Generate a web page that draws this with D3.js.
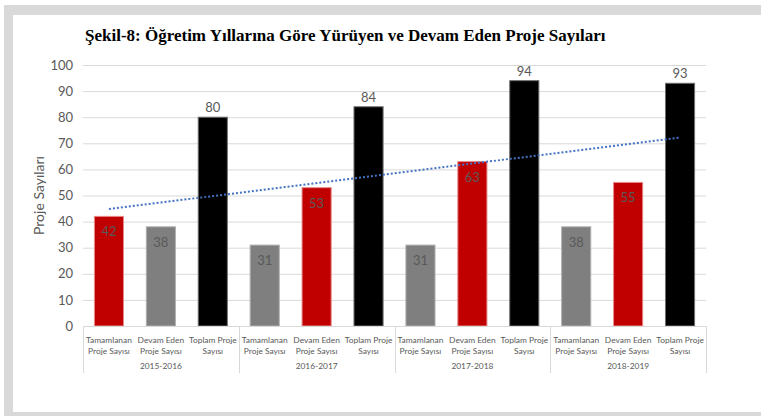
<!DOCTYPE html>
<html>
<head>
<meta charset="utf-8">
<script src="https://cdn.jsdelivr.net/npm/d3@7"></script>
<style>
	body { margin: 0; background: #fff; }
	svg { display: block; }
</style>
</head>
<body>
<div id="chart"></div>
<script>
// data
const years = ['2015-2016', '2016-2017', '2017-2018', '2018-2019'];
const seriesNames = ['Tamamlanan Proje Sayısı', 'Devam Eden Proje Sayısı', 'Toplam Proje Sayısı'];
const completed = [42, 31, 31, 38];
const ongoing = [38, 53, 63, 55];
const total = [80, 84, 94, 93];
const yTicks = [0, 10, 20, 30, 40, 50, 60, 70, 80, 90, 100];

// label lines under each bar
const seriesLines = [['Tamamlanan', 'Proje Sayısı'], ['Devam Eden', 'Proje Sayısı'], ['Toplam Proje', 'Sayısı']];

const RED = '#c00000', GREY = '#7f7f7f', BLACK = '#000000';
// the first year is coloured differently from the rest
const colours = [
	[RED, GREY, BLACK],
	[GREY, RED, BLACK],
	[GREY, RED, BLACK],
	[GREY, RED, BLACK]
];
const strokes = {[RED]: '#e88a8a', [GREY]: '#b0b0b0', [BLACK]: '#6f6f6f'};

const width = 761, height = 416;
const plot = {left: 83, right: 706, top: 65, bottom: 326};
const font = 'Lato, "Open Sans", sans-serif';
const textGrey = '#595959';

const svg = d3.select('#chart').append('svg')
	.attr('width', width)
	.attr('height', height);

// grey frame round the card
svg.append('rect').attr('x', 4).attr('y', 5).attr('width', width - 4).attr('height', height - 5).attr('fill', '#d9d9d9');
svg.append('rect').attr('x', 13).attr('y', 15).attr('width', width - 13).attr('height', 397).attr('fill', '#fff');

svg.append('text')
	.attr('x', 85)
	.attr('y', 41)
	.attr('font-family', '"Liberation Serif", "Times New Roman", serif')
	.attr('font-weight', 'bold')
	.attr('font-size', 17)
	.attr('fill', '#000')
	.text('Şekil-8: Öğretim Yıllarına Göre Yürüyen ve Devam Eden Proje Sayıları');

const y = d3.scaleLinear().domain([0, 100]).range([plot.bottom, plot.top]);
const x0 = d3.scaleBand().domain(years).range([plot.left, plot.right]).padding(0);
const x1 = d3.scaleBand().domain(d3.range(seriesNames.length)).range([0, x0.bandwidth()])
	.paddingInner(0.42).paddingOuter(0.21);

// gridlines + y labels
const yAxis = d3.axisLeft(y).tickValues(yTicks).tickSize(-(plot.right - plot.left)).tickPadding(10);
const gy = svg.append('g')
	.attr('transform', `translate(${plot.left},0)`)
	.call(yAxis);
gy.select('.domain').remove();
gy.selectAll('.tick line').attr('stroke', '#d9d9d9').attr('stroke-width', 1);
gy.selectAll('.tick text')
	.attr('font-family', font)
	.attr('font-size', 13)
	.attr('fill', textGrey);

svg.append('text')
	.attr('transform', `translate(44,${(plot.top + plot.bottom) / 2}) rotate(-90)`)
	.attr('text-anchor', 'middle')
	.attr('font-family', font)
	.attr('font-size', 14)
	.attr('fill', textGrey)
	.text('Proje Sayıları');

const rows = years.map((yr, i) => ({year: yr, values: [completed[i], ongoing[i], total[i]]}));

const groups = svg.append('g').selectAll('g')
	.data(rows)
	.join('g')
	.attr('transform', d => `translate(${x0(d.year)},0)`);

groups.selectAll('rect')
	.data((d, gi) => d.values.map((v, si) => ({v, si, gi})))
	.join('rect')
	.attr('x', d => x1(d.si) + 0.5)
	.attr('y', d => y(d.v))
	.attr('width', x1.bandwidth() - 1)
	.attr('height', d => y(0) - y(d.v))
	.attr('fill', d => colours[d.gi][d.si])
	.attr('stroke', d => strokes[colours[d.gi][d.si]])
	.attr('stroke-width', 1);

// value labels: inside end for completed/ongoing, above for total
groups.selectAll('text.val')
	.data((d, gi) => d.values.map((v, si) => ({v, si, gi})))
	.join('text')
	.attr('class', 'val')
	.attr('x', d => x1(d.si) + x1.bandwidth() / 2)
	.attr('y', d => d.si === 2 ? y(d.v) - 5 : y(d.v) + 20)
	.attr('text-anchor', 'middle')
	.attr('font-family', font)
	.attr('font-size', 13)
	.attr('fill', textGrey)
	.text(d => d.v);

// x axis line and group separators
svg.append('line')
	.attr('x1', plot.left).attr('x2', plot.right)
	.attr('y1', plot.bottom + 0.5).attr('y2', plot.bottom + 0.5)
	.attr('stroke', '#d9d9d9');
const edges = years.map(yr => x0(yr)).concat([plot.right]);
svg.append('g').selectAll('line')
	.data(edges)
	.join('line')
	.attr('x1', d => Math.round(d) + 0.5).attr('x2', d => Math.round(d) + 0.5)
	.attr('y1', plot.bottom).attr('y2', 373)
	.attr('stroke', '#d9d9d9');

// category labels
groups.selectAll('text.cat')
	.data(() => seriesLines.map((lines, si) => ({lines, si})))
	.join('text')
	.attr('class', 'cat')
	.attr('x', d => x1(d.si) + x1.bandwidth() / 2)
	.attr('y', 343)
	.attr('text-anchor', 'middle')
	.attr('font-family', font)
	.attr('font-size', 8.4)
	.attr('fill', textGrey)
	.selectAll('tspan')
	.data(d => d.lines)
	.join('tspan')
	.attr('x', function () { return d3.select(this.parentNode).attr('x'); })
	.attr('dy', (d, i) => i === 0 ? 0 : 11)
	.text(d => d);

groups.append('text')
	.attr('x', x0.bandwidth() / 2)
	.attr('y', 369)
	.attr('text-anchor', 'middle')
	.attr('font-family', font)
	.attr('font-size', 8.4)
	.attr('fill', textGrey)
	.text(d => d.year);

// linear trendline over all twelve bars, left to right
const flat = rows.flatMap(r => r.values.map((v, si) => ({x: x0(r.year) + x1(si) + x1.bandwidth() / 2, v})));
const n = flat.length;
const idx = d3.range(1, n + 1);
const mx = d3.mean(idx), my = d3.mean(flat, d => d.v);
const slope = d3.sum(idx, (k, i) => (k - mx) * (flat[i].v - my)) / d3.sum(idx, k => (k - mx) ** 2);
const icpt = my - slope * mx;
const trend = [flat[0], flat[n - 1]].map((d, j) => ({x: d.x, v: icpt + slope * (j === 0 ? 1 : n)}));

svg.append('path')
	.datum(trend)
	.attr('fill', 'none')
	.attr('stroke', '#4472c4')
	.attr('stroke-width', 2)
	.attr('stroke-dasharray', '2,2')
	.attr('d', d3.line().x(d => d.x).y(d => y(d.v)));
</script>
</body>
</html>
